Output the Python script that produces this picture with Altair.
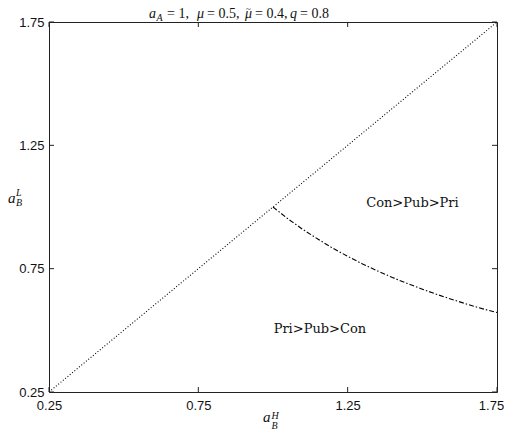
import altair as alt
import pandas as pd

# ---- data ----
x_ticks = [0.25, 0.75, 1.25, 1.75]
y_ticks = [0.25, 0.75, 1.25, 1.75]

diag_x = [0.25, 1.75]
diag_y = [0.25, 1.75]

curve_x = [1.0, 1.05, 1.1, 1.15, 1.2, 1.25, 1.3, 1.35, 1.4, 1.45, 1.5, 1.55, 1.6, 1.65, 1.7, 1.75]
curve_y = [1.0, 0.952, 0.909, 0.870, 0.833, 0.800, 0.769, 0.741, 0.714, 0.690, 0.667, 0.645, 0.625, 0.606, 0.588, 0.572]

region_labels = ["Con>Pub>Pri", "Pri>Pub>Con"]
region_x = [1.467, 1.157]
region_y = [1.016, 0.505]

W, H = 448, 370
dom = [0.25, 1.75]
SERIF = "Liberation Serif, Times New Roman, serif"

xs = alt.Scale(domain=dom, nice=False, zero=False)
ys = alt.Scale(domain=dom, nice=False, zero=False)

diag = pd.DataFrame({"x": diag_x, "y": diag_y})
curve = pd.DataFrame({"x": curve_x, "y": curve_y})
regions = pd.DataFrame({"x": region_x, "y": region_y, "t": region_labels})
xt = pd.DataFrame({"v": x_ticks})
yt = pd.DataFrame({"v": y_ticks})

base_axis = dict(grid=False, ticks=False, domain=False, labelFont="Liberation Sans, Arial, sans-serif",
                 labelFontSize=13, labelColor="#111", labelFlush=False, title=None,
                 format=".2f")

diag_line = alt.Chart(diag).mark_line(color="black", strokeWidth=1.1, strokeDash=[1, 2]).encode(
    x=alt.X("x:Q", scale=xs, axis=alt.Axis(values=x_ticks, labelPadding=7,
                                           labelOffset=alt.expr("datum.value >= 1.7 ? -6 : 0"),
                                           **base_axis)),
    y=alt.Y("y:Q", scale=ys, axis=alt.Axis(values=y_ticks, labelPadding=5, **base_axis)),
)

curve_line = alt.Chart(curve).mark_line(color="black", strokeWidth=1.1, strokeDash=[5, 2, 1.5, 2]).encode(
    x=alt.X("x:Q", scale=xs), y=alt.Y("y:Q", scale=ys)
)

region_text = alt.Chart(regions).mark_text(font="DejaVu Serif, serif", fontSize=13, color="#111").encode(
    x=alt.X("x:Q", scale=xs), y=alt.Y("y:Q", scale=ys), text="t:N"
)

# inward ticks on all four sides
tb = alt.Chart(xt).mark_rule(color="#222").encode(x=alt.X("v:Q", scale=xs), y=alt.value(H), y2=alt.value(H - 5))
tt = alt.Chart(xt).mark_rule(color="#222").encode(x=alt.X("v:Q", scale=xs), y=alt.value(0), y2=alt.value(5))
tl = alt.Chart(yt).mark_rule(color="#222").encode(y=alt.Y("v:Q", scale=ys), x=alt.value(0), x2=alt.value(5))
tr = alt.Chart(yt).mark_rule(color="#222").encode(y=alt.Y("v:Q", scale=ys), x=alt.value(W), x2=alt.value(W - 5))

# title and axis titles built from pieces (math-style text)
def piece(text, x, y, size=14, style="normal", font=SERIF):
    return alt.Chart(pd.DataFrame({"t": [text]})).mark_text(
        font=font, fontSize=size, fontStyle=style, align="left", baseline="alphabetic", color="#111"
    ).encode(x=alt.value(x), y=alt.value(y), text="t:N")

ty = -4
title_parts = [
    piece("a", 100, ty, 14, "italic"),
    piece("A", 107.5, ty + 3, 10, "italic"),
    piece("= 1,", 118, ty),
    piece("\u03bc", 148, ty, 14, "italic"),
    piece("= 0.5,", 158, ty),
    piece("\u03bc", 196, ty, 14, "italic"),
    piece("~", 197, ty - 6, 9),
    piece("= 0.4,", 206, ty),
    piece("q", 241, ty, 14, "italic"),
    piece("= 0.8", 251, ty),
]

xlab = [
    piece("a", 214, 400, 15, "italic"),
    piece("H", 222.5, 397, 10, "italic"),
    piece("B", 222.5, 407, 10, "italic"),
]
ylab = [
    piece("a", -41, 181, 15, "italic"),
    piece("L", -33, 174, 10, "italic"),
    piece("B", -33, 183.5, 10, "italic"),
]

chart = alt.layer(
    diag_line, curve_line, region_text, tb, tt, tl, tr, *title_parts, *xlab, *ylab
).properties(
    width=W, height=H,
    autosize=alt.AutoSizeParams(type="none"),
    padding={"left": 41, "top": 14, "right": 7, "bottom": 38},
    background="white",
).configure_view(stroke="#222", strokeWidth=1)

chart.save("out.html", embed_options={"renderer": "svg", "actions": False})
